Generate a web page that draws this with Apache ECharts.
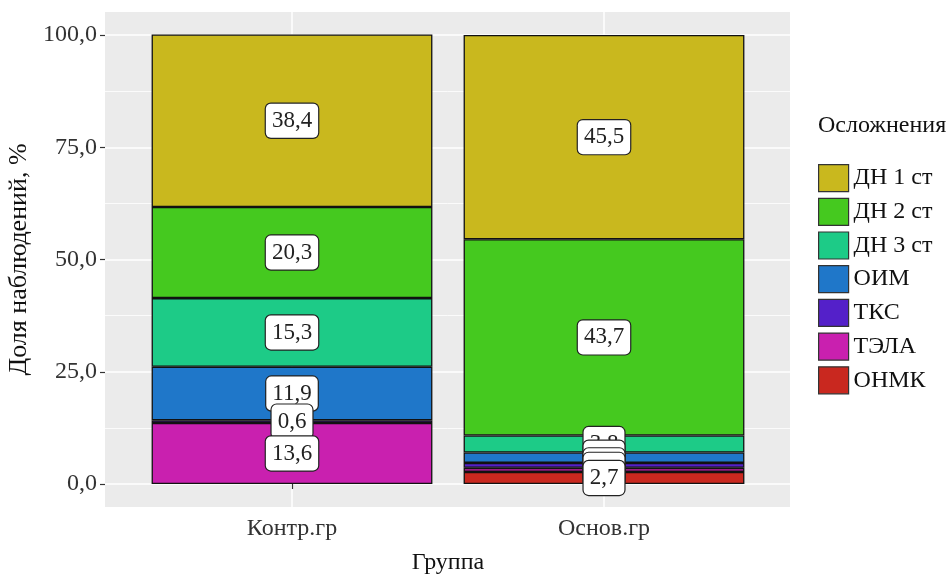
<!DOCTYPE html>
<html><head><meta charset="utf-8">
<script src="https://cdn.jsdelivr.net/npm/echarts@6/dist/echarts.min.js"></script>
<style>html,body{margin:0;padding:0;background:#fff}#c{width:949px;height:574px}</style>
</head><body><div id="c"></div>
<script>
const categories = ['Контр.гр', 'Основ.гр'];
const seriesNames = ['ДН 1 ст', 'ДН 2 ст', 'ДН 3 ст', 'ОИМ', 'ТКС', 'ТЭЛА', 'ОНМК'];
const dn1 = [38.4, 45.5];
const dn2 = [20.3, 43.7];
const dn3 = [15.3, 3.8];
const oim = [11.9, 2.3];
const tks = [0.6, 1.1];
const tela = [13.6, 0.9];
const onmk = [null, 2.7];
const yTicks = [0, 25, 50, 75, 100];
const legendTitle = 'Осложнения';
const xTitle = 'Группа';
const yTitle = 'Доля наблюдений, %';

const seriesValues = [dn1, dn2, dn3, oim, tks, tela, onmk];
const colors = ['#C9B81E', '#45C91F', '#1DCB87', '#1F77C9', '#5420C9', '#C920AF', '#C9281F'];
const FONT = '"Liberation Serif", "DejaVu Serif", serif';
const fmt = v => Number(v).toFixed(1).replace('.', ',');

const chart = echarts.init(document.getElementById('c'), null, {renderer: 'canvas'});
chart.setOption({
  animation: false,
  backgroundColor: '#fff',
  title: {
    text: legendTitle, left: 818, top: 114, padding: 0,
    textStyle: {fontFamily: FONT, fontSize: 24, fontWeight: 'normal', color: '#111'}
  },
  graphic: [{
    type: 'rect', z: -10, silent: true,
    shape: {x: 105, y: 12, width: 685, height: 495},
    style: {fill: '#EBEBEB'}
  }],
  legend: {
    orient: 'vertical', left: 818, top: 164, padding: 0,
    itemWidth: 30, itemHeight: 27, itemGap: 5.5,
    icon: 'rect',
    data: seriesNames,
    textStyle: {fontFamily: FONT, fontSize: 24, color: '#111', lineHeight: 27},
    itemStyle: {borderColor: '#333', borderWidth: 1.2}
  },
  grid: [
    {left: 136, right: 189, top: 35, bottom: 90, outerBoundsMode: 'none', containLabel: false},
    {left: 292, right: 345, top: 12, bottom: 67, outerBoundsMode: 'none', containLabel: false},
    {left: 105, right: 159, top: 35, bottom: 90, outerBoundsMode: 'none', containLabel: false}
  ],
  xAxis: [
    {
      type: 'category', gridIndex: 0, data: categories, offset: 23,
      axisLine: {show: false},
      axisTick: {show: true, alignWithLabel: true, length: 5, lineStyle: {color: '#333', width: 1.2}},
      axisLabel: {fontFamily: FONT, fontSize: 24, color: '#333', margin: 10},
      splitLine: {show: false},
      name: xTitle, nameLocation: 'middle', nameGap: 44,
      nameTextStyle: {fontFamily: FONT, fontSize: 24, color: '#111'}
    },
    {
      type: 'value', gridIndex: 1, min: 0, max: 1, interval: 1,
      axisLine: {show: false}, axisTick: {show: false}, axisLabel: {show: false},
      splitLine: {show: true, lineStyle: {color: '#fff', width: 1.5}}
    },
    {
      type: 'value', gridIndex: 2, min: 0, max: 1, show: false
    }
  ],
  yAxis: [
    {type: 'value', gridIndex: 0, min: yTicks[0], max: yTicks[yTicks.length - 1], show: false},
    {type: 'value', gridIndex: 1, min: 0, max: 1, show: false},
    {
      type: 'value', gridIndex: 2, min: yTicks[0], max: yTicks[yTicks.length - 1],
      interval: yTicks[1] - yTicks[0],
      axisLine: {show: false},
      axisTick: {show: true, length: 5, lineStyle: {color: '#333', width: 1.2}},
      axisLabel: {fontFamily: FONT, fontSize: 24, color: '#333', margin: 8, formatter: fmt},
      splitLine: {show: true, lineStyle: {color: '#fff', width: 1.5}},
      minorTick: {show: false, splitNumber: 2},
      minorSplitLine: {show: true, lineStyle: {color: '#fff', width: 0.8}},
      name: yTitle, nameLocation: 'middle', nameGap: 68, nameRotate: 90,
      nameTextStyle: {fontFamily: FONT, fontSize: 26, color: '#111'}
    }
  ],
  series: seriesNames.map((name, i) => ({
    name: name,
    type: 'bar',
    xAxisIndex: 0, yAxisIndex: 0,
    stack: 'total',
    stackOrder: 'seriesDesc',
    barWidth: '90%',
    data: seriesValues[i],
    itemStyle: {color: colors[i], borderColor: '#111', borderWidth: 1.3},
    label: {
      show: true, position: 'inside',
      formatter: p => fmt(p.value),
      fontFamily: FONT, fontSize: 23, color: '#222',
      backgroundColor: '#fff', borderColor: '#222', borderWidth: 1.2, borderRadius: 5,
      padding: [4, 6], lineHeight: 26
    }
  }))
});
</script></body></html>
